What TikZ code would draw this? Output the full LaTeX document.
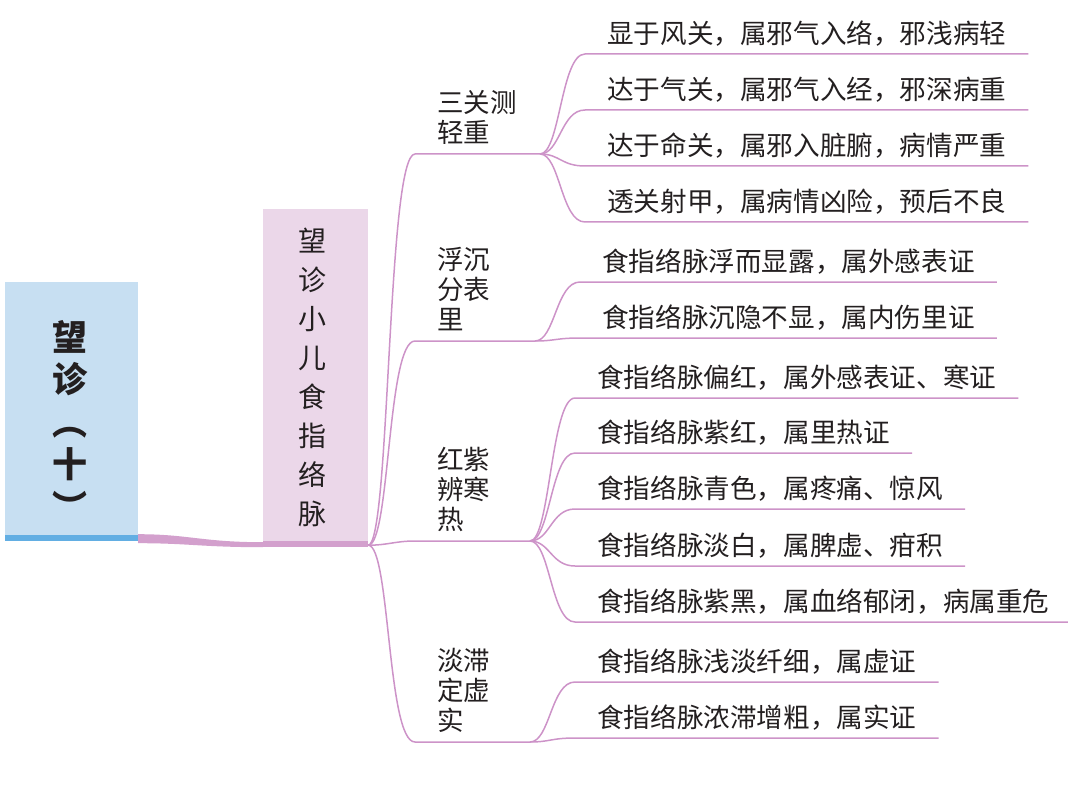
\documentclass[tikz,border=0pt]{standalone}
\usepackage{fontspec}
\newfontfamily\cjk{Noto Sans CJK SC}
\usetikzlibrary{calc}
\definecolor{rootFill}{HTML}{C7DFF2}
\definecolor{rootBar}{HTML}{62AEE3}
\definecolor{boxFill}{HTML}{EBD7E9}
\definecolor{boxBar}{HTML}{D3A0CD}
\definecolor{branchCol}{HTML}{CD93C8}
\definecolor{txtCol}{HTML}{231F20}
\tikzset{
	rootbox/.style = {fill=rootFill, minimum width=133pt, minimum height=253pt, inner sep=0pt},
	roottext/.style = {font=\cjk\bfseries\fontsize{35}{42.5}\selectfont, align=center, text=txtCol},
	wzbox/.style = {fill=boxFill, minimum width=105pt, minimum height=332pt, inner sep=0pt},
	wztext/.style = {font=\cjk\fontsize{28}{39}\selectfont, align=center, text=txtCol},
	branch/.style = {draw=branchCol, line width=1.5pt},
	midlbl/.style = {font=\cjk\fontsize{26.5}{30}\selectfont, align=left, text=txtCol, anchor=south west, inner xsep=22pt, inner ysep=0pt, text depth=11pt},
	leaf/.style = {font=\cjk\fontsize{26.6}{30}\selectfont, text=txtCol, anchor=south west, inner xsep=22pt, inner ysep=0pt, text depth=10pt}
}
\begin{document}
\begin{tikzpicture}[x=1pt, y=-1pt]
	\useasboundingbox (0,0) rectangle (1068,805);
	
	% root and second box
	\node[rootbox] (root) at (71.5,408.5) {};
	\fill[rootBar] (root.south west) rectangle ++(133,6);
	\node[roottext] (roottxt) at (70,420) {望\\诊\\︵\\十\\︶};
	
	\node[wzbox] (wz) at (315.5,375) {};
	\fill[boxBar] (wz.south west) rectangle ++(105,6);
	\node[wztext] (wztxt) at (312,377) {望\\诊\\小\\儿\\食\\指\\络\\脉};
	
	\fill[boxBar] ($(root.south east)+(0,-1)$) .. controls +(50,0) and +(-60,0) .. ($(wz.south west)+(0,1)$)
		-- ++(0,5) .. controls +(-60,0) and +(50,0) .. ($(root.south east)+(0,8)$) -- cycle;
	
	\coordinate (hub) at ($(wz.south east)+(0,4)$);
	
	% second level
	\node[midlbl] (sanguan) at (415,154) {三关测\\轻重};
	\node[midlbl] (fuchen) at (415,341) {浮沉\\分表\\里};
	\node[midlbl] (hongzi) at (415,541) {红紫\\辨寒\\热};
	\node[midlbl] (danzhi) at (415,742) {淡滞\\定虚\\实};
	\coordinate (jA) at (540,154);
	\coordinate (jB) at (535,341);
	\coordinate (jC) at (530,541);
	\coordinate (jD) at (530,742);
	
	\draw[branch] (hub) .. controls +(22,0) and +(-28,0) .. (sanguan.south west) -- (jA);
	\draw[branch] (hub) .. controls +(22,0) and +(-28,0) .. (fuchen.south west) -- (jB);
	\draw[branch] (hub) .. controls +(20,0) and +(-20,0) .. (hongzi.south west) -- (jC);
	\draw[branch] (hub) .. controls +(22,0) and +(-28,0) .. (danzhi.south west) -- (jD);
	
	% leaves
	\foreach \y/\t [count=\i] in {54/显于风关，属邪气入络，邪浅病轻, 110/达于气关，属邪气入经，邪深病重,
		166/达于命关，属邪入脏腑，病情严重, 222/透关射甲，属病情凶险，预后不良}{
		\node[leaf] (a\i) at (585,\y) {\t};
		\draw[branch] (jA) .. controls +(20,0) and +(-24,0) .. (a\i.south west) -- (a\i.south east);
	}
	
	\foreach \y/\t [count=\i] in {282/食指络脉浮而显露，属外感表证, 338/食指络脉沉隐不显，属内伤里证}{
		\node[leaf] (b\i) at (580,\y) {\t};
		\draw[branch] (jB) .. controls +(20,0) and +(-24,0) .. (b\i.south west) -- (b\i.south east);
	}
	
	\foreach \y/\t [count=\i] in {398/食指络脉偏红，属外感表证、寒证, 453/食指络脉紫红，属里热证,
		509/食指络脉青色，属疼痛、惊风, 566/食指络脉淡白，属脾虚、疳积, 622/食指络脉紫黑，属血络郁闭，病属重危}{
		\node[leaf] (c\i) at (575,\y) {\t};
		\draw[branch] (jC) .. controls +(20,0) and +(-24,0) .. (c\i.south west) -- (c\i.south east);
	}
	
	\foreach \y/\t [count=\i] in {682/食指络脉浅淡纤细，属虚证, 738/食指络脉浓滞增粗，属实证}{
		\node[leaf] (d\i) at (575,\y) {\t};
		\draw[branch] (jD) .. controls +(20,0) and +(-24,0) .. (d\i.south west) -- (d\i.south east);
	}
\end{tikzpicture}
\end{document}
